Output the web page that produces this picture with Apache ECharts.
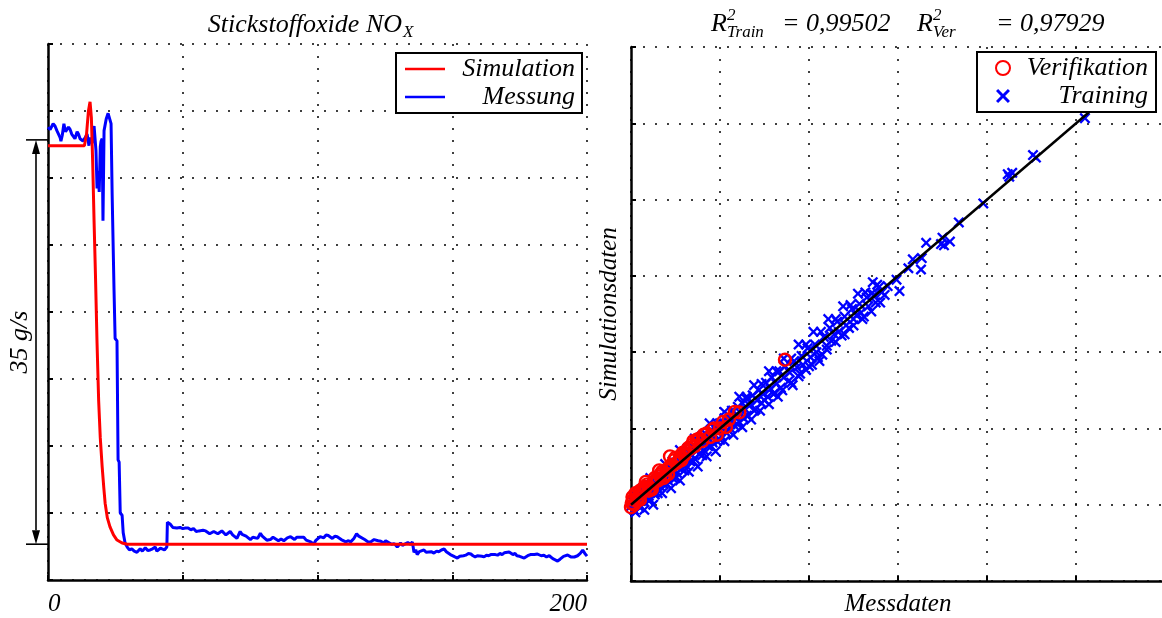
<!DOCTYPE html>
<html>
<head>
<meta charset="utf-8">
<script src="https://cdn.jsdelivr.net/npm/echarts@6/dist/echarts.min.js"></script>
<style>
  html, body { margin: 0; padding: 0; background: #ffffff; }
  #chart { width: 1162px; height: 618px; }
</style>
</head>
<body>
<div id="chart"></div>
<script>
// ---- Left panel: NOx mass flow over time, values in g/s ----
const simulation = [
  [0, 37.6], [13.5, 37.6], [14.3, 38.6], [15.0, 40.6], [15.6, 41.4], [16.1, 40.0],
  [16.6, 36.0], [17.1, 31.0], [17.6, 26.5], [18.2, 20.5], [18.8, 15.5], [19.4, 12.3],
  [20.1, 9.8], [20.7, 8.0], [21.2, 6.65], [22.0, 5.4], [23.0, 4.6], [24.3, 3.9],
  [25.6, 3.46], [27.5, 3.2], [29.4, 3.1], [200, 3.1]
];

const messung = [
  [0, 39.2], [0.8, 39.0], [1.9, 39.5], [2.6, 39.3], [3.3, 38.9], [4.0, 38.8], [4.5, 38.3],
  [4.8, 38.0], [5.3, 38.5], [5.9, 39.5], [6.5, 38.8], [7.1, 38.9], [7.6, 39.2], [8.2, 39.0],
  [8.8, 38.6], [9.3, 38.7], [10.0, 38.2], [10.8, 38.8], [11.3, 38.6], [11.9, 38.2], [12.5, 38.3],
  [13.0, 38.0], [13.8, 38.3], [14.5, 38.6], [15.2, 37.6], [15.6, 38.3], [16.4, 37.8], [17.1, 39.3],
  [17.8, 37.2], [18.2, 33.9], [18.6, 35.4], [19.0, 33.6], [19.4, 37.5], [19.7, 38.0], [20.1, 38.2],
  [20.4, 31.1], [20.8, 38.9], [21.6, 39.9], [22.3, 40.4], [23.0, 40.3], [23.4, 39.5], [23.8, 33.4],
  [24.2, 33.3], [24.5, 25.1], [24.9, 20.9], [25.6, 20.7], [26.0, 10.4], [26.4, 10.2], [26.8, 5.8],
  [27.5, 5.6], [27.9, 4.1], [28.6, 3.2], [29.4, 2.85], [30.2, 2.6], [31.1, 2.7], [32.0, 2.5],
  [33.0, 2.4], [33.6, 2.55], [34.2, 2.7], [35.0, 2.5], [36.1, 2.8], [37.0, 2.55], [37.9, 2.6],
  [38.8, 2.7], [39.8, 2.85], [40.4, 2.5], [41.0, 2.6], [41.7, 2.75], [42.3, 2.8], [43.2, 2.6],
  [44.1, 2.85], [44.3, 5.0], [45.3, 4.85], [46.3, 4.55], [47.8, 4.5], [49.0, 4.55], [50.0, 4.45],
  [51.0, 4.5], [52.0, 4.5], [53.0, 4.35], [54.0, 4.45], [55.0, 4.2], [56.0, 4.25], [56.5, 4.15],
  [57.5, 4.3], [58.5, 4.25], [59.0, 4.2], [60.0, 4.0], [60.5, 4.05], [61.5, 4.2], [62.0, 4.15],
  [63.0, 4.0], [63.5, 4.05], [64.5, 4.25], [65.0, 4.2], [66.0, 3.9], [66.5, 4.0], [67.6, 4.2],
  [68.5, 3.9], [69.0, 3.8], [70.1, 3.6], [71.3, 4.2], [72.0, 3.95], [72.6, 4.1], [73.5, 3.8],
  [74.0, 3.7], [75.1, 3.5], [76.0, 3.7], [76.5, 3.85], [77.8, 3.6], [78.8, 4.05], [79.5, 3.8],
  [80.0, 3.7], [81.2, 3.45], [82.5, 3.5], [83.5, 3.7], [84.0, 3.6], [85.5, 3.4], [86.5, 3.55],
  [87.5, 3.4], [88.8, 3.65], [90.0, 3.75], [91.5, 3.5], [92.3, 3.7], [93.0, 3.6], [94.9, 3.7],
  [95.8, 3.45], [96.5, 3.5], [97.5, 3.3], [98.6, 3.1], [99.3, 3.4], [100.0, 3.5], [101.0, 3.75],
  [102.3, 3.65], [103.2, 3.9], [104.0, 3.85], [105.5, 3.6], [106.5, 3.8], [107.3, 3.75], [108.8, 3.5],
  [109.5, 3.6], [110.5, 3.3], [111.5, 3.4], [112.3, 3.3], [113.5, 3.6], [114.5, 4.0], [115.3, 3.8],
  [116.0, 3.9], [117.5, 3.5], [118.2, 3.6], [118.8, 3.3], [119.7, 3.3], [121.0, 3.5], [122.5, 3.4],
  [123.5, 3.35], [124.6, 3.2], [125.3, 3.4], [126.0, 3.3], [127.5, 3.1], [128.5, 3.15], [129.6, 2.85],
  [130.8, 3.2], [131.5, 3.0], [132.1, 3.1], [133.5, 3.25], [134.5, 3.1], [135.2, 3.3], [135.8, 2.4],
  [136.5, 2.6], [137.0, 2.2], [137.8, 2.45], [138.5, 2.6], [139.5, 2.6], [140.3, 2.4], [141.0, 2.35],
  [142.2, 2.45], [143.2, 2.33], [144.2, 2.5], [145.0, 2.45], [146.0, 2.6], [147.0, 2.68], [147.8, 2.45],
  [148.5, 2.3], [149.3, 2.2], [150.0, 2.1], [151.0, 2.0], [151.9, 1.9], [152.8, 2.05], [153.5, 2.0],
  [154.2, 2.1], [155.0, 2.15], [156.0, 2.3], [156.9, 2.25], [157.7, 2.1], [158.5, 2.0], [159.3, 2.1],
  [160.0, 1.95], [161.0, 2.05], [161.8, 2.0], [162.7, 2.15], [163.5, 2.1], [164.3, 2.2], [165.0, 2.05],
  [166.0, 2.2], [166.8, 2.15], [167.7, 2.3], [168.5, 2.2], [169.3, 2.35], [170.0, 2.35], [171.1, 2.42],
  [171.8, 2.25], [172.5, 2.2], [173.3, 2.3], [174.0, 2.1], [175.0, 2.05], [175.5, 2.0], [176.7, 1.9],
  [177.4, 2.0], [178.0, 2.1], [179.0, 2.2], [179.5, 2.3], [180.5, 2.2], [181.6, 2.25], [182.3, 2.35],
  [183.0, 2.1], [184.0, 2.15], [185.0, 2.0], [186.0, 2.1], [186.6, 1.99], [187.3, 1.85], [188.0, 1.8],
  [189.1, 1.64], [190.0, 1.8], [190.5, 1.9], [191.3, 2.05], [192.0, 2.05], [192.8, 2.16], [193.5, 2.05],
  [194.0, 2.0], [195.3, 1.99], [196.0, 2.15], [196.5, 2.1], [197.5, 2.3], [198.4, 2.59], [199.2, 2.3],
  [200, 2.07]
];

const timeTickLabels = ['0', '200'];
// Height bracket on the left: difference between the two steady simulation levels
const spanTop = 38.1;
const spanBottom = 3.1;
const spanLabel = '35 g/s';

// ---- Right panel: simulated vs. measured values (g/s) ----
const verifikation = [
  [6.05, 6.13], [6.15, 6.39], [6.2, 6.0], [6.38, 6.79], [6.5, 6.6], [6.7, 6.9], [6.83, 7.18],
  [7.0, 7.3], [7.2, 7.1], [7.5, 7.7], [7.7, 8.0], [7.96, 8.23], [8.0, 8.4], [8.2, 8.1],
  [8.4, 8.75], [8.63, 9.8], [8.8, 9.1], [9.08, 9.28], [9.3, 9.7], [9.6, 9.9], [9.86, 10.46],
  [10.1, 10.7], [10.43, 11.11], [10.8, 11.0], [11.1, 11.6], [11.33, 11.32], [11.78, 11.5],
  [12.0, 12.0], [12.4, 12.1], [13.3, 13.26], [16.38, 17.4],
  [6.1, 6.6], [6.4, 6.3], [6.6, 7.1], [6.9, 7.4], [7.1, 7.6], [7.3, 7.3], [7.6, 8.1], [7.8, 7.9],
  [8.1, 8.6], [8.3, 8.3], [8.6, 9.0], [8.9, 9.5], [9.2, 9.4], [9.5, 10.1], [9.7, 10.2], [10.0, 10.4],
  [10.3, 10.6], [10.6, 11.2], [11.5, 11.9], [12.2, 12.5],
  [6.0, 5.8], [6.3, 6.9], [6.6, 6.4], [7.0, 7.8], [7.4, 7.2], [7.9, 8.7], [8.5, 8.4], [9.0, 9.7],
  [9.4, 9.5], [10.2, 11.0], [10.9, 11.5], [11.6, 12.0], [12.6, 12.7], [13.0, 13.3]
];

const training = [
  [6.0, 5.9], [6.1, 6.3], [6.2, 5.6], [6.3, 6.0], [6.4, 6.6], [6.5, 6.1], [6.6, 5.8], [6.7, 6.4],
  [6.8, 6.9], [6.9, 6.2], [7.0, 6.6], [7.1, 7.2], [7.2, 6.7], [7.3, 6.4], [7.4, 7.5], [7.5, 7.0],
  [7.6, 6.8], [7.7, 7.6], [7.8, 7.2], [7.9, 7.9], [8.0, 7.4], [8.1, 8.2], [8.2, 7.6], [8.3, 8.0],
  [8.4, 8.6], [8.5, 7.9], [8.6, 8.3], [8.7, 8.9], [8.8, 8.1], [8.9, 8.6], [9.0, 9.3], [9.1, 8.5],
  [9.2, 8.9], [9.3, 9.5], [9.4, 8.8], [9.5, 9.2], [9.6, 9.9], [9.7, 9.1], [9.8, 9.6], [9.9, 10.2],
  [10.0, 9.4], [10.1, 9.9], [10.2, 10.6], [10.3, 9.6], [10.4, 10.2], [10.5, 10.9], [10.6, 10.0],
  [10.7, 10.5], [10.8, 11.2], [10.9, 10.3], [11.0, 10.8], [11.1, 11.5], [11.2, 10.6], [11.3, 11.1],
  [11.4, 11.9], [11.5, 10.9], [11.6, 11.4], [11.7, 12.1], [11.8, 11.0], [11.9, 11.7], [12.0, 12.4],
  [12.1, 11.4], [12.2, 12.0], [12.3, 12.8], [12.4, 11.7], [12.5, 12.3], [12.6, 13.0], [12.7, 12.0],
  [12.8, 12.6], [12.9, 13.4], [13.0, 12.2], [13.1, 12.9], [13.2, 13.7], [13.3, 12.5], [13.4, 13.2],
  [13.5, 14.0], [13.6, 12.8], [13.7, 13.5], [13.8, 14.3], [13.9, 13.0], [14.0, 13.8], [14.2, 14.6],
  [14.3, 13.4], [14.5, 14.2], [14.6, 15.0], [14.8, 14.0], [14.9, 14.7], [15.1, 15.6], [15.2, 14.5],
  [15.4, 15.1], [15.5, 16.0], [15.7, 14.8], [15.8, 15.5], [16.0, 16.5], [16.1, 15.2], [16.3, 16.0],
  [16.4, 16.9], [16.6, 15.7], [16.7, 16.4], [16.9, 15.4], [17.0, 17.3], [17.2, 16.8], [17.3, 16.1],
  [17.5, 17.7], [17.6, 17.0], [17.8, 16.6], [17.9, 18.3], [18.1, 17.6], [18.2, 17.0], [18.4, 18.6],
  [18.5, 18.0], [18.7, 17.3], [18.9, 17.8], [19.0, 19.2], [19.2, 18.5], [19.4, 19.9], [19.5, 18.9],
  [19.7, 19.4], [19.9, 20.4], [20.0, 19.6], [20.2, 19.3], [20.4, 20.8], [20.5, 20.1], [20.7, 19.9],
  [20.9, 21.4], [21.0, 20.6], [21.2, 20.9], [21.4, 21.8], [21.5, 21.1], [21.7, 20.8], [21.9, 22.3],
  [22.0, 21.6], [22.2, 22.6], [22.4, 22.5], [22.5, 21.9], [22.6, 23.3], [22.7, 23.1], [22.9, 22.7],
  [23.1, 22.5], [23.3, 23.2], [23.9, 23.7], [24.1, 22.8], [24.7, 24.6], [25.0, 25.3], [25.55, 24.5],
  [25.6, 25.4], [25.9, 26.6], [26.9, 26.5], [27.0, 27.0], [27.1, 26.4], [27.5, 26.7], [28.1, 28.2],
  [29.75, 29.7], [31.4, 32.0], [31.5, 31.8], [31.7, 32.1], [33.1, 33.5], [33.3, 33.3], [36.6, 36.4],
  [37.5, 37.3],
  [6.3, 5.4], [6.6, 5.8], [6.9, 5.6], [7.2, 6.3], [7.5, 6.0], [7.8, 6.9], [8.1, 6.9], [8.4, 7.6],
  [8.7, 7.3], [9.0, 8.1], [9.3, 7.9], [9.6, 8.7], [9.9, 8.6], [10.2, 9.4], [10.5, 9.0], [10.8, 9.9],
  [11.1, 9.8], [11.4, 10.6], [11.7, 10.2], [12.0, 11.1], [12.3, 11.0], [12.6, 11.8], [12.9, 11.5],
  [13.2, 12.3], [13.5, 12.1], [13.8, 13.0], [14.1, 12.7], [14.4, 13.5], [14.7, 13.4], [15.0, 14.2],
  [15.3, 13.9], [15.6, 14.7], [15.9, 14.5],
  [6.8, 7.3], [7.3, 8.1], [7.8, 8.3], [8.3, 9.2], [8.8, 9.4], [9.3, 10.3], [9.8, 10.4], [10.3, 11.2],
  [10.8, 11.4], [11.3, 12.4], [11.8, 12.4], [12.3, 13.3], [12.8, 13.4], [13.3, 14.5], [13.8, 14.5],
  [14.3, 15.4], [14.8, 15.5], [15.3, 16.5], [15.8, 16.5], [16.3, 17.5], [16.8, 17.5], [17.3, 18.6],
  [17.8, 18.6], [18.3, 19.6], [18.8, 19.6], [19.3, 20.6], [19.8, 20.6], [20.3, 21.6], [20.8, 21.7],
  [21.3, 22.6], [21.8, 22.7], [22.3, 23.5],
  [16.2, 15.0], [16.8, 15.6], [17.4, 16.3], [18.0, 16.9], [18.6, 17.6], [19.2, 18.2], [19.8, 18.8],
  [20.4, 19.4], [21.0, 20.1], [21.6, 20.6], [22.2, 21.2], [22.8, 21.9]
];

const identityLine = [[6, 6], [40, 40]];
const r2Train = '= 0,99502';
const r2Ver = '= 0,97929';

const FONT = '"Liberation Serif", "Times New Roman", serif';
const NAME_STYLE = { fontFamily: FONT, fontStyle: 'italic', fontSize: 25, color: '#000' };
const CROSS = 'path://M0,1.5L1.5,0L5,3.5L8.5,0L10,1.5L6.5,5L10,8.5L8.5,10L5,6.5L1.5,10L0,8.5L3.5,5Z';

const gridLine = { show: true, lineStyle: { color: '#000', width: 1.5, type: [2, 10] } };
const axisLine = { show: true, onZero: false, lineStyle: { color: '#000', width: 2.5 } };
const inTick = { show: true, inside: true, length: 5, lineStyle: { color: '#000', width: 2 } };

const legendText = (w) => ({
  fontFamily: FONT, fontStyle: 'italic', fontSize: 26, color: '#000',
  rich: { r: { width: w, align: 'right', fontFamily: FONT, fontStyle: 'italic', fontSize: 26, color: '#000', lineHeight: 25 } }
});

const chart = echarts.init(document.getElementById('chart'), null, { renderer: 'canvas' });

const option = {
  animation: false,
  backgroundColor: '#ffffff',
  grid: [
    { left: 48, top: 44, width: 539, height: 536, outerBoundsMode: 'none', containLabel: false },
    { left: 631, top: 47, width: 534, height: 534, outerBoundsMode: 'none', containLabel: false }
  ],
  xAxis: [
    {
      type: 'value', gridIndex: 0, min: 0, max: 200, interval: 50,
      axisLine: axisLine, axisTick: inTick, splitLine: gridLine,
      axisLabel: {
        show: true, margin: 12, fontFamily: FONT, fontStyle: 'italic', fontSize: 25, color: '#000',
        alignMinLabel: 'left', alignMaxLabel: 'right', hideOverlap: false,
        formatter: v => (timeTickLabels.indexOf(String(v)) >= 0 ? String(v) : '')
      },
      name: '{i|Zeit in }{n|[s]}', nameLocation: 'middle', nameGap: 12,
      nameTextStyle: {
        rich: {
          i: { fontFamily: FONT, fontStyle: 'italic', fontSize: 25, color: '#000' },
          n: { fontFamily: FONT, fontStyle: 'normal', fontSize: 25, color: '#000' }
        }
      }
    },
    {
      type: 'value', gridIndex: 1, min: 6, max: 42, interval: 6,
      axisLine: axisLine, axisTick: inTick, splitLine: gridLine,
      axisLabel: { show: false },
      name: 'Messdaten', nameLocation: 'middle', nameGap: 11, nameTextStyle: NAME_STYLE
    }
  ],
  yAxis: [
    {
      type: 'value', gridIndex: 0, min: 0, max: 46.4, interval: 5.8,
      axisLine: axisLine, axisTick: inTick, splitLine: gridLine,
      axisLabel: { show: false }
    },
    {
      type: 'value', gridIndex: 1, min: 0, max: 42, interval: 6,
      axisLine: axisLine, axisTick: inTick, splitLine: gridLine,
      axisLabel: { show: false },
      name: 'Simulationsdaten', nameLocation: 'middle', nameRotate: 90, nameGap: 9,
      nameTextStyle: NAME_STYLE
    }
  ],
  legend: [
    {
      data: [{ name: 'Simulation', icon: 'rect' }, { name: 'Messung', icon: 'rect' }],
      orient: 'vertical', left: 396, top: 53, z: 10,
      itemWidth: 40, itemHeight: 2.5, itemGap: 2,
      padding: [3, 7, 3, 9],
      backgroundColor: '#fff', borderColor: '#000', borderWidth: 2, borderRadius: 0,
      selectedMode: false,
      formatter: n => '{r|' + n + '}',
      textStyle: legendText(125)
    },
    {
      data: ['Verifikation', 'Training'],
      orient: 'vertical', left: 977, top: 52, z: 10,
      itemWidth: 14, itemHeight: 14, itemGap: 2,
      padding: [3, 8, 3, 18],
      backgroundColor: '#fff', borderColor: '#000', borderWidth: 2, borderRadius: 0,
      selectedMode: false,
      formatter: n => '{r|' + n + '}',
      textStyle: legendText(133)
    }
  ],
  series: [
    {
      name: 'Messung', type: 'line', xAxisIndex: 0, yAxisIndex: 0, data: messung,
      showSymbol: false, symbol: 'none', color: '#0000ff',
      lineStyle: { color: '#0000ff', width: 3 }, z: 2
    },
    {
      name: 'Simulation', type: 'line', xAxisIndex: 0, yAxisIndex: 0, data: simulation,
      showSymbol: false, symbol: 'none', color: '#ff0000',
      lineStyle: { color: '#ff0000', width: 3 }, z: 3
    },
    {
      name: 'Training', type: 'scatter', xAxisIndex: 1, yAxisIndex: 1, data: training,
      symbol: CROSS, symbolSize: 11, color: '#0000ff',
      itemStyle: { color: '#0000ff', opacity: 1 }, z: 2
    },
    {
      name: 'Verifikation', type: 'scatter', xAxisIndex: 1, yAxisIndex: 1, data: verifikation,
      symbol: 'circle', symbolSize: 12, color: '#ff0000',
      itemStyle: { color: 'rgba(255,255,255,0)', borderColor: '#ff0000', borderWidth: 2.4, opacity: 1 }, z: 3
    },
    {
      name: 'Ideal', type: 'line', xAxisIndex: 1, yAxisIndex: 1, data: identityLine,
      showSymbol: false, symbol: 'none', color: '#000',
      lineStyle: { color: '#000', width: 2.5 }, z: 4
    }
  ]
};

chart.setOption(option);

// Bracket and titles, placed through the axis scales where they refer to data
const pTop = chart.convertToPixel({ gridIndex: 0 }, [0, spanTop]);
const pBot = chart.convertToPixel({ gridIndex: 0 }, [0, spanBottom]);
const ax = 36, head = 14, half = 4;
const txt = (x, y, text, size, opts) => Object.assign({
  type: 'text', x: x, y: y, silent: true,
  style: Object.assign({
    text: text, font: 'italic ' + size + 'px ' + FONT, fill: '#000',
    textAlign: 'left', textVerticalAlign: 'middle', align: 'left', verticalAlign: 'middle'
  }, (opts && opts.style) || {})
}, opts ? { rotation: opts.rotation || 0 } : {});

const graphics = [
  { type: 'line', silent: true, shape: { x1: 26, y1: pTop[1], x2: pTop[0], y2: pTop[1] }, style: { stroke: '#000', lineWidth: 1.6 } },
  { type: 'line', silent: true, shape: { x1: 26, y1: pBot[1], x2: pBot[0], y2: pBot[1] }, style: { stroke: '#000', lineWidth: 1.6 } },
  { type: 'line', silent: true, shape: { x1: ax, y1: pTop[1] + head, x2: ax, y2: pBot[1] - head }, style: { stroke: '#000', lineWidth: 1.6 } },
  { type: 'polygon', silent: true, shape: { points: [[ax, pTop[1]], [ax - half, pTop[1] + head], [ax + half, pTop[1] + head]] }, style: { fill: '#000' } },
  { type: 'polygon', silent: true, shape: { points: [[ax, pBot[1]], [ax - half, pBot[1] - head], [ax + half, pBot[1] - head]] }, style: { fill: '#000' } },
  txt(20, (pTop[1] + pBot[1]) / 2, spanLabel, 26, { rotation: Math.PI / 2, style: { textAlign: 'center', align: 'center' } }),

  // left title
  txt(402, 25, 'Stickstoffoxide NO', 26, { style: { textAlign: 'right', align: 'right' } }),
  txt(403, 33, 'X', 17),

  // right title
  txt(711, 24, 'R', 26),
  txt(727, 16, '2', 17),
  txt(727, 33, 'Train', 17),
  txt(782, 24, r2Train, 26),
  txt(917, 24, 'R', 26),
  txt(933, 16, '2', 17),
  txt(933, 33, 'Ver', 17),
  txt(996, 24, r2Ver, 26)
];

chart.setOption({ graphic: graphics });
</script>
</body>
</html>
